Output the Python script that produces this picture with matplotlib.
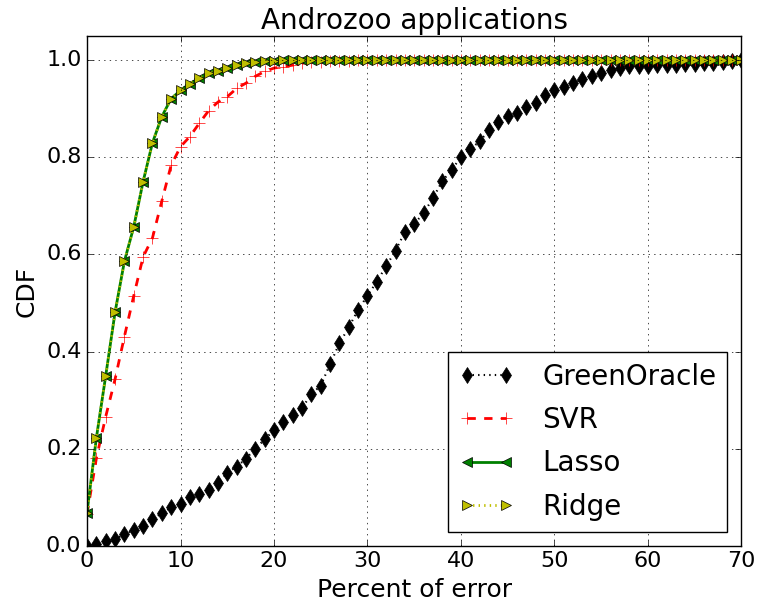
import matplotlib
matplotlib.use("Agg")
import matplotlib.pyplot as plt
import numpy as np

plt.style.use('classic')

error = list(range(0, 71))

green_oracle = [0.0, 0.004, 0.01, 0.013, 0.024, 0.032, 0.041, 0.055, 0.067, 0.079,
                0.086, 0.101, 0.107, 0.115, 0.129, 0.15, 0.163, 0.179, 0.2, 0.219,
                0.238, 0.254, 0.27, 0.284, 0.312, 0.33, 0.374, 0.417, 0.45, 0.486,
                0.515, 0.544, 0.576, 0.608, 0.646, 0.663, 0.685, 0.716, 0.751, 0.774,
                0.801, 0.817, 0.833, 0.856, 0.872, 0.886, 0.892, 0.903, 0.912, 0.929,
                0.939, 0.946, 0.953, 0.961, 0.968, 0.974, 0.98, 0.985, 0.989, 0.989,
                0.989, 0.99, 0.99, 0.991, 0.992, 0.993, 0.994, 0.995, 0.996, 0.998,
                1.0]

svr = [0.065, 0.18, 0.266, 0.343, 0.431, 0.515, 0.595, 0.634, 0.71, 0.784,
       0.822, 0.843, 0.87, 0.896, 0.914, 0.925, 0.942, 0.953, 0.967, 0.977,
       0.984, 0.987, 0.99, 0.994, 0.996, 0.997, 0.998, 0.999, 0.999, 1.0] + [1.0] * 41

lasso = [0.068, 0.222, 0.35, 0.481, 0.586, 0.657, 0.75, 0.83, 0.884, 0.921,
         0.938, 0.952, 0.963, 0.973, 0.979, 0.985, 0.99, 0.994, 0.996, 0.998,
         0.999] + [1.0] * 50

ridge = list(lasso)

fig = plt.figure(figsize=(7.6, 6.06), dpi=100, facecolor='white')
ax = fig.add_axes([0.1145, 0.0995, 0.861, 0.841])

ax.plot(error, green_oracle, 'k:', marker='d', markersize=8, linewidth=1.5, label='GreenOracle')
ax.plot(error, svr, 'r--', marker='+', markersize=8, linewidth=2, label='SVR')
ax.plot(error, lasso, 'g-', marker='<', markersize=7, linewidth=2, label='Lasso')
ax.plot(error, ridge, 'y:', marker='>', markersize=7, linewidth=2, label='Ridge')

ax.set_xlim(0, 70)
ax.set_ylim(0, 1.05)
ax.set_yticks([0.0, 0.2, 0.4, 0.6, 0.8, 1.0])
ax.grid(True)
ax.tick_params(labelsize=16)

ax.set_title('Androzoo applications', fontsize=20)
ax.set_xlabel('Percent of error', fontsize=18)
ax.set_ylabel('CDF', fontsize=18)

ax.legend(loc='lower right', fontsize=20, numpoints=2, handlelength=2.0,
          handletextpad=1.0, labelspacing=0.55)

fig.savefig('out.png', dpi=100, facecolor='white')
